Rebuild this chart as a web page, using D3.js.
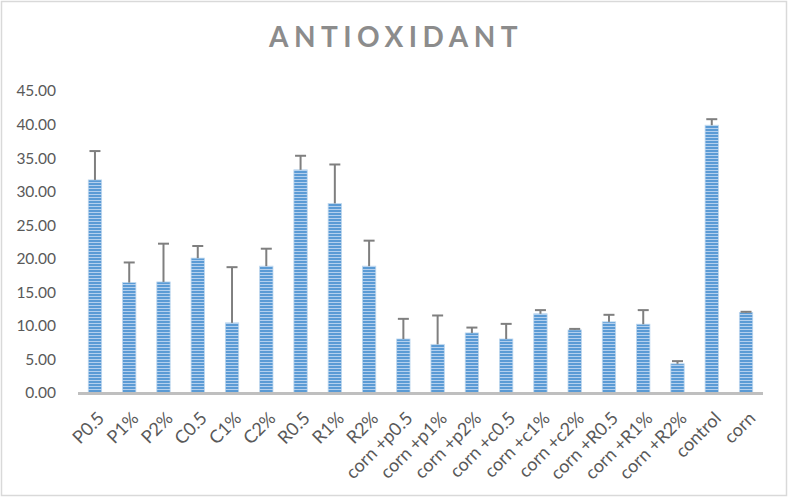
<!DOCTYPE html>
<html lang="en">
  <head>
    <meta charset="utf-8"/>
    <title>ANTIOXIDANT</title>
    <script src="https://d3js.org/d3.v7.min.js"></script>
    <style>
      body { margin: 0; background: #fff; }
      svg { display: block; }
      text { font-family: Lato, "Liberation Sans", sans-serif; }
    </style>
  </head>
  <body>
    <div id="chart"></div>
    <script>
    // values
    var categories = ["P0.5", "P1%", "P2%", "C0.5", "C1%", "C2%", "R0.5", "R1%", "R2%",
                      "corn +p0.5", "corn +p1%", "corn +p2%", "corn +c0.5", "corn +c1%", "corn +c2%",
                      "corn +R0.5", "corn +R1%", "corn +R2%", "control", "corn"];
    var means  = [31.75, 16.45, 16.55, 20.1, 10.45, 18.9, 33.25, 28.25, 18.9,
                  8.05, 7.25, 8.95, 8.05, 11.8, 9.4, 10.6, 10.25, 4.35, 39.9, 12.0];
    var errors = [4.3, 3.0, 5.7, 1.8, 8.3, 2.6, 2.1, 5.8, 3.8,
                  3.0, 4.3, 0.8, 2.25, 0.55, 0.15, 1.05, 2.1, 0.4, 0.9, 0.1];
    var yTicks = [0, 5, 10, 15, 20, 25, 30, 35, 40, 45];

    var width = 789, height = 498;
    var margin = {top: 91, right: 26, bottom: 105, left: 78};

    var svg = d3.select("#chart").append("svg")
        .attr("width", width)
        .attr("height", height);

    // chart border
    svg.append("rect")
        .attr("x", 1.5).attr("y", 1.5)
        .attr("width", width - 4).attr("height", height - 4)
        .attr("fill", "#fff")
        .attr("stroke", "#d9d9d9")
        .attr("stroke-width", 1.5);

    // horizontal stripe fill like the Excel pattern
    var pat = svg.append("defs").append("pattern")
        .attr("id", "stripes")
        .attr("patternUnits", "userSpaceOnUse")
        .attr("width", 6).attr("height", 3);
    pat.append("rect").attr("width", 6).attr("height", 3).attr("fill", "#b4d0ee");
    pat.append("rect").attr("width", 6).attr("height", 2).attr("fill", "#5b9bd5");

    svg.append("text")
        .attr("x", 396).attr("y", 47)
        .attr("text-anchor", "middle")
        .attr("font-size", 28)
        .attr("font-weight", "bold")
        .attr("letter-spacing", 5.5)
        .attr("fill", "#8c8c8c")
        .text("ANTIOXIDANT");

    var x = d3.scaleBand()
        .domain(categories)
        .range([margin.left, width - margin.right])
        .paddingInner(0.61)
        .paddingOuter(0.3);

    var y = d3.scaleLinear()
        .domain([0, 45])
        .range([height - margin.bottom, margin.top]);

    // y axis labels
    var yAxis = svg.append("g")
        .attr("transform", "translate(" + (margin.left - 19) + ",0)")
        .call(d3.axisLeft(y).tickValues(yTicks).tickSize(0).tickFormat(d3.format(".2f")));
    yAxis.select(".domain").remove();
    yAxis.selectAll("text")
        .attr("font-size", 15.5)
        .attr("fill", "#595959")
        .attr("font-family", "Lato, 'Liberation Sans', sans-serif");

    // bars
    svg.append("g").selectAll("rect")
        .data(categories)
        .enter().append("rect")
        .attr("x", function(d) { return x(d); })
        .attr("y", function(d, i) { return y(means[i]); })
        .attr("width", x.bandwidth())
        .attr("height", function(d, i) { return y(0) - y(means[i]); })
        .attr("fill", "url(#stripes)")
        .attr("stroke", "#bdd7ee")
        .attr("stroke-width", 0.8);

    // error bars (plus side only)
    var eb = svg.append("g")
        .attr("stroke", "#7f7f7f")
        .attr("stroke-width", 2);
    categories.forEach(function(c, i) {
      var cx = x(c) + x.bandwidth() / 2;
      eb.append("line")
          .attr("x1", cx).attr("x2", cx)
          .attr("y1", y(means[i])).attr("y2", y(means[i] + errors[i]));
      eb.append("line")
          .attr("x1", cx - 5.5).attr("x2", cx + 5.5)
          .attr("y1", y(means[i] + errors[i])).attr("y2", y(means[i] + errors[i]));
    });

    // x axis line
    svg.append("line")
        .attr("x1", margin.left).attr("x2", width - margin.right)
        .attr("y1", y(0) + 0.5).attr("y2", y(0) + 0.5)
        .attr("stroke", "#bfbfbf")
        .attr("stroke-width", 3);

    // rotated category labels
    svg.append("g").selectAll("text")
        .data(categories)
        .enter().append("text")
        .attr("transform", function(d) {
          return "translate(" + (x(d) + x.bandwidth() / 2 + 6) + "," + (y(0) + 22) + ") rotate(-45)";
        })
        .attr("text-anchor", "end")
        .attr("dy", "0.35em")
        .attr("font-size", 18)
        .attr("fill", "#595959")
        .text(function(d) { return d; });
    </script>
  </body>
</html>
